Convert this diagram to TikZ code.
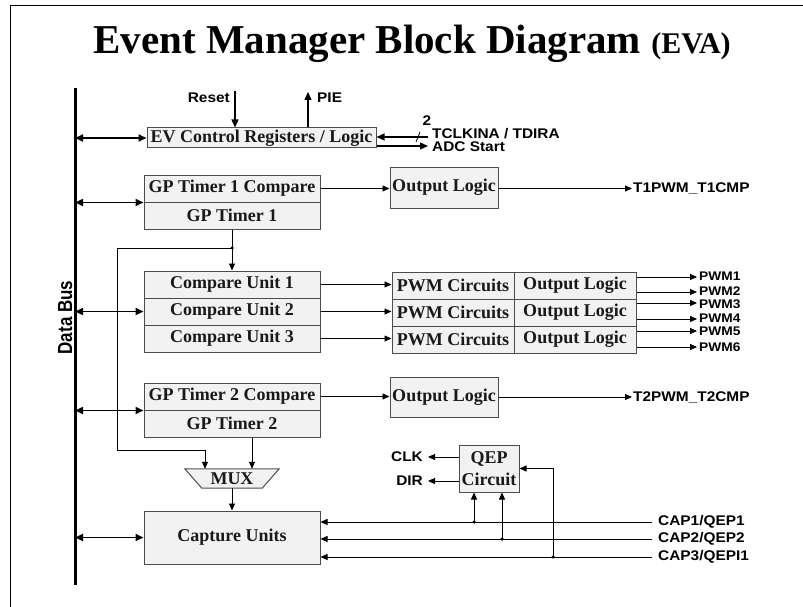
\documentclass[tikz,border=0pt]{standalone}
\usepackage{graphicx}
\usepackage{fontspec}
\setmainfont{Liberation Serif}
\newfontfamily\sansf[FakeStretch=1.1]{Liberation Sans}
\newfontfamily\sansplain{Liberation Sans}
\usetikzlibrary{arrows.meta,calc}
\tikzset{
 blk/.style={draw=black!70, fill=black!5, line width=1pt, inner sep=0pt, font=\fontsize{18}{22}\selectfont\bfseries, text=black!90},
 lbl/.style={inner sep=0pt, font=\sansf\fontsize{14}{16}\selectfont\bfseries},
 lblsm/.style={inner sep=0pt, font=\sansf\fontsize{12.5}{14}\selectfont\bfseries},
 sig/.style={line width=0.8pt, -{Triangle[length=7pt,width=6pt]}},
 sigb/.style={line width=1.3pt, -{Triangle[length=8pt,width=7pt]}},
 wire/.style={line width=0.8pt},
 busarr/.style={line width=1.8pt, {Triangle[length=8pt,width=7pt]}-{Triangle[length=8pt,width=7pt]}},
 jdot/.style={circle, fill, inner sep=0pt, minimum size=3.5pt}
}
\begin{document}
\begin{tikzpicture}[x=1pt,y=-1pt]
\useasboundingbox (0,0) rectangle (803,607);
% frame
\draw[line width=1pt] (10,607) -- (10,6) -- (803,6);
% title
\node[inner sep=0pt, anchor=base] (title) at (412,54) {\fontsize{41}{44}\selectfont\bfseries Event Manager Block Diagram {\fontsize{30}{32}\selectfont (EVA)}};
% data bus
\coordinate (bustop) at (75,88);
\coordinate (busbot) at (75,585);
\draw[line width=3pt] (bustop) -- (busbot);
\node[rotate=90, anchor=south, inner sep=0pt, font=\sansplain\fontsize{17}{19}\selectfont\bfseries] (dbus) at (72.5,317.5) {\scalebox{1}[1.2]{Data Bus}};
% blocks
\node[blk, minimum width=229pt, minimum height=20pt] (ev) at (261.5,138) {EV Control Registers / Logic};
\node[blk, minimum width=176pt, minimum height=27pt] (gp1c) at (232,188.5) {GP Timer 1 Compare};
\node[blk, minimum width=176pt, minimum height=27pt] (gp1) at (232,215.5) {GP Timer 1};
\node[blk, minimum width=108pt, minimum height=41pt] (ol1) at (444,187.5) {Output Logic};
\node[blk, minimum width=176pt, minimum height=27pt] (cu1) at (232,284.5) {Compare Unit 1};
\node[blk, minimum width=176pt, minimum height=27pt] (cu2) at (232,311.5) {Compare Unit 2};
\node[blk, minimum width=176pt, minimum height=27pt] (cu3) at (232,338.5) {Compare Unit 3};
\node[blk, minimum width=122pt, minimum height=27pt] (pw1) at (453,285.5) {PWM Circuits};
\node[blk, minimum width=122pt, minimum height=27pt] (pw2) at (453,312.5) {PWM Circuits};
\node[blk, minimum width=122pt, minimum height=27pt] (pw3) at (453,339.5) {PWM Circuits};
\node[blk, minimum width=122pt, minimum height=27pt] (op1) at (575,285.5) {Output Logic};
\node[blk, minimum width=122pt, minimum height=27pt] (op2) at (575,312.5) {Output Logic};
\node[blk, minimum width=122pt, minimum height=27pt] (op3) at (575,339.5) {Output Logic};
\node[blk, minimum width=176pt, minimum height=27pt] (gp2c) at (232,396.5) {GP Timer 2 Compare};
\node[blk, minimum width=176pt, minimum height=27pt] (gp2) at (232,423.5) {GP Timer 2};
\node[blk, minimum width=108pt, minimum height=40pt] (ol2) at (444,397) {Output Logic};
\node[inner sep=0pt, minimum width=94pt, minimum height=19pt] (mux) at (232,478.5) {};
\draw[draw=black!70, fill=black!5, line width=1pt] (mux.north west) -- (mux.north east) -- ([xshift=-17pt]mux.south east) -- ([xshift=17pt]mux.south west) -- cycle;
\node[inner sep=0pt, font=\fontsize{18}{22}\selectfont\bfseries, text=black!90] (muxt) at (mux.center) {MUX};
\node[blk, minimum width=176pt, minimum height=53pt] (cap) at (232,537.5) {Capture Units};
\node[blk, minimum width=60pt, minimum height=47pt, align=center, font=\fontsize{18}{22}\selectfont\bfseries] (qep) at (489,468.5) {QEP\\Circuit};
% bus arrows
\draw[busarr] (ev.west -| bustop) -- (ev.west);
\draw[busarr] (gp1c.south west -| bustop) -- (gp1c.south west);
\draw[busarr] (cu2.west -| bustop) -- (cu2.west);
\draw[busarr] (gp2c.south west -| bustop) -- (gp2c.south west);
\draw[busarr] (cap.west -| bustop) -- (cap.west);
% EV control signals
\coordinate (rst) at (235,91);
\draw[sigb] (rst) -- (rst |- ev.north);
\node[lbl, anchor=east] (rstl) at (230,98) {Reset};
\coordinate (pie) at (308,92);
\draw[sigb] (pie |- ev.north) -- (pie);
\node[lbl, anchor=west] (piel) at (317,98) {PIE};
\coordinate (tclk) at (428,137);
\draw[sigb] (tclk) -- (tclk -| ev.east);
\coordinate (sl1) at (416,142);
\coordinate (sl2) at (420,132);
\draw[wire] (sl1) -- (sl2);
\node[lbl] (two) at (427,121) {2};
\node[lbl, anchor=west] (tclkl) at (432,134) {TCLKINA / TDIRA};
\coordinate (adc) at (428,146);
\draw[sigb] (adc -| ev.east) -- (adc);
\node[lbl, anchor=west] (adcl) at (432,147) {ADC Start};
% timer 1
\draw[sig] (gp1c.east) -- (gp1c.east -| ol1.west);
\coordinate (t1o) at (632,188.5);
\draw[sig] (ol1.east |- t1o) -- (t1o);
\node[lbl, anchor=west] (t1l) at (633,188.5) {T1PWM\_T1CMP};
\coordinate (j1) at (232,248);
\draw[sig] (gp1.south) -- (cu1.north);
\node[jdot] (j1d) at (j1) {};
\coordinate (lp1) at (117,248);
\coordinate (lp2) at (117,450);
\draw[sig] (j1) -- (lp1) -- (lp2) -| ([xshift=-27pt]mux.north);
% compare units
\draw[sig] (cu1.east) -- (cu1.east -| pw1.west);
\draw[sig] (cu2.east) -- (cu2.east -| pw2.west);
\draw[sig] (cu3.east) -- (cu3.east -| pw3.west);
\coordinate (p1) at (697,277);
\coordinate (p2) at (697,292);
\coordinate (p3) at (697,303);
\coordinate (p4) at (697,319);
\coordinate (p5) at (697,331);
\coordinate (p6) at (697,347);
\draw[sig] (p1 -| op1.east) -- (p1);
\draw[sig] (p2 -| op1.east) -- (p2);
\draw[sig] (p3 -| op1.east) -- (p3);
\draw[sig] (p4 -| op1.east) -- (p4);
\draw[sig] (p5 -| op1.east) -- (p5);
\draw[sig] (p6 -| op1.east) -- (p6);
\node[lblsm, anchor=west] (p1l) at (699,276.5) {PWM1};
\node[lblsm, anchor=west] (p2l) at (699,291) {PWM2};
\node[lblsm, anchor=west] (p3l) at (699,304) {PWM3};
\node[lblsm, anchor=west] (p4l) at (699,318.5) {PWM4};
\node[lblsm, anchor=west] (p5l) at (699,331.5) {PWM5};
\node[lblsm, anchor=west] (p6l) at (699,347) {PWM6};
% timer 2
\draw[sig] (gp2c.east) -- (gp2c.east -| ol2.west);
\coordinate (t2o) at (632,397);
\draw[sig] (ol2.east |- t2o) -- (t2o);
\node[lbl, anchor=west] (t2l) at (633,397) {T2PWM\_T2CMP};
\draw[sig] ([xshift=20pt]gp2.south) -- ([xshift=20pt]mux.north);
\draw[sig] (mux.south) -- (cap.north);
% capture inputs
\coordinate (c1) at (652,522);
\coordinate (c2) at (652,539);
\coordinate (c3) at (652,557);
\draw[sig] (c1) -- (c1 -| cap.east);
\draw[sig] (c2) -- (c2 -| cap.east);
\draw[sig] (c3) -- (c3 -| cap.east);
\node[lbl, anchor=west] (c1l) at (658,522) {CAP1/QEP1};
\node[lbl, anchor=west] (c2l) at (658,539) {CAP2/QEP2};
\node[lbl, anchor=west] (c3l) at (658,557) {CAP3/QEPI1};
% QEP
\coordinate (q1) at (474,522);
\coordinate (q2) at (502,539);
\coordinate (q3) at (553,557);
\coordinate (q3t) at (553,468.5);
\draw[sig] (q1) -- (q1 |- qep.south);
\draw[sig] (q2) -- (q2 |- qep.south);
\draw[sig] (q3) -- (q3t) -- (qep.east);
\node[jdot] (q1d) at (q1) {};
\node[jdot] (q2d) at (q2) {};
\node[jdot] (q3d) at (q3) {};
\coordinate (clk) at (428,457);
\coordinate (dir) at (428,481);
\draw[sig] (clk -| qep.west) -- (clk);
\draw[sig] (dir -| qep.west) -- (dir);
\node[lbl, anchor=east] (clkl) at (423,457) {CLK};
\node[lbl, anchor=east] (dirl) at (423,481) {DIR};
\end{tikzpicture}
\end{document}
